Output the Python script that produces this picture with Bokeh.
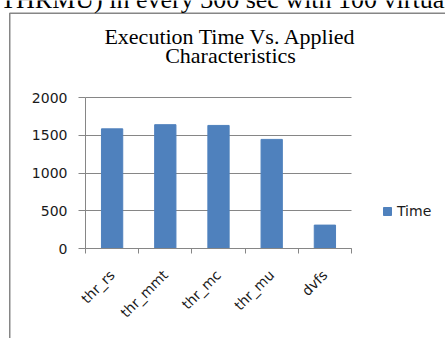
from bokeh.plotting import figure
from bokeh.models import Range1d, FixedTicker, Legend, LegendItem
from bokeh.core.properties import value
from bokeh.embed import file_html
from bokeh.resources import INLINE

categories = ["thr_rs", "thr_mmt", "thr_mc", "thr_mu", "dvfs"]
times = [1585, 1640, 1630, 1445, 310]
y_ticks = [0, 500, 1000, 1500, 2000]
series_name = "Time"
title_lines = ["Execution Time Vs. Applied", "Characteristics"]
page_text = "(THRMU) in every 300 sec with 100 virtual"

# ---- layout constants (canvas pixels)
W, H = 445, 338
PLOT_L, PLOT_R = 85, 351      # plot area left/right
PLOT_T, PLOT_B = 97, 248      # plot area top (y=2000) / bottom (y=0)
cat_px = (PLOT_R - PLOT_L) / len(categories)
unit_px = (PLOT_B - PLOT_T) / 2000.0

grey = "#868686"
font = "DejaVu Sans"
ink = "#1a1a1a"

x_pos = [i + 0.5 for i in range(len(categories))]
x_bounds = [float(i) for i in range(len(categories) + 1)]

p = figure(width=W, height=H,
           x_range=Range1d(-PLOT_L / cat_px, (W - PLOT_L) / cat_px),
           y_range=Range1d(-(H - PLOT_B) / unit_px, PLOT_B / unit_px),
           output_backend="svg", toolbar_location=None, title=None,
           min_border=0)
p.outline_line_color = None
p.extra_x_ranges = {"px": Range1d(0, W)}
p.extra_y_ranges = {"px": Range1d(H, 0)}

# chart-area border, page text and chart title (canvas-pixel ranges)
p.multi_line(xs=[[9.25, 9.25, W + 5]], ys=[[H + 5, 12.75, 12.75]],
             line_color=grey, line_width=1.5, x_range_name="px", y_range_name="px")
p.text(x=[-9], y=[-1], text=[page_text], text_font=value("Liberation Serif"),
       text_font_size="26px", text_baseline="alphabetic", text_color="black",
       x_range_name="px", y_range_name="px")
p.text(x=[230, 230], y=[36, 55], text=title_lines, text_font=value("Liberation Serif"),
       text_font_size="22px", text_align="center", text_baseline="alphabetic",
       text_color="black", x_range_name="px", y_range_name="px")

r = p.vbar(x=x_pos, top=times, width=0.4, fill_color="#4F81BD", line_color="#4F81BD")

p.xgrid.visible = False
p.ygrid.grid_line_color = grey
p.ygrid.grid_line_width = 1
p.ygrid.ticker = FixedTicker(ticks=y_ticks)
p.ygrid.cross_bounds = (0, len(categories))

ya = p.yaxis[0]
ya.fixed_location = 0
ya.ticker = FixedTicker(ticks=y_ticks)
ya.bounds = (0, 2000)
ya.axis_line_color = grey
ya.major_tick_line_color = grey
ya.major_tick_out = 7
ya.major_tick_in = 0
ya.minor_tick_line_color = None
ya.major_label_standoff = 11
ya.major_label_text_font = font
ya.major_label_text_font_size = "14px"
ya.major_label_text_color = ink

xa = p.xaxis[0]
xa.fixed_location = 0
xa.ticker = FixedTicker(ticks=x_pos, minor_ticks=x_bounds)
xa.bounds = (0, len(categories))
xa.major_label_overrides = {x: c for x, c in zip(x_pos, categories)}
xa.axis_line_color = grey
xa.major_tick_line_color = None
xa.major_tick_out = 0
xa.major_tick_in = 0
xa.minor_tick_line_color = grey
xa.minor_tick_out = 5
xa.minor_tick_in = 0
xa.major_label_orientation = 0.7854
xa.major_label_standoff = 19
xa.major_label_text_font = font
xa.major_label_text_font_size = "14px"
xa.major_label_text_color = ink

legend = Legend(items=[LegendItem(label=series_name, renderers=[r])],
                location=(382, 119), glyph_width=10, glyph_height=10,
                label_standoff=5, padding=0, margin=0, spacing=0,
                border_line_color=None, background_fill_alpha=0,
                label_text_font=font, label_text_font_size="14px",
                label_text_color=ink)
p.add_layout(legend, "center")

open("out.html", "w").write(file_html(p, INLINE))
